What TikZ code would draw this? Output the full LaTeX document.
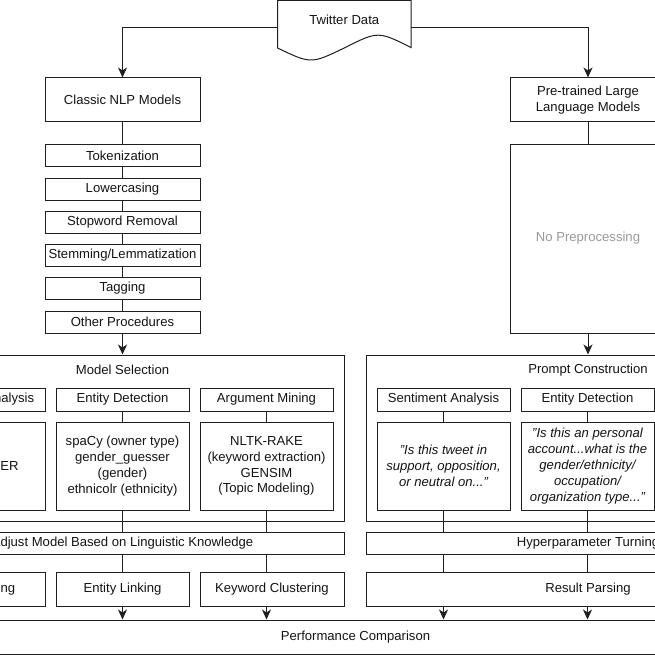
\documentclass[tikz,border=0pt]{standalone}
\usepackage{fontspec}
\setmainfont{Liberation Sans}
\usetikzlibrary{arrows.meta}
\begin{document}
\begin{tikzpicture}[x=1pt,y=-1pt,
  every node/.style={font=\fontsize{13.1}{15.8}\selectfont, text=black!92},
  box/.style={draw=black!88, line width=1pt, rectangle, inner sep=0pt, align=center},
  ln/.style={draw=black!88, line width=1pt},
  arr/.style={ln, -{Stealth[length=10pt,width=9pt,inset=3pt]}},
  hdr/.style={box, minimum width=133pt, minimum height=23pt},
  cnt/.style={box, minimum width=133pt, minimum height=88pt},
  step6/.style={box, minimum width=155pt, minimum height=22pt}]
\useasboundingbox (0,0) rectangle (655,655);
\clip (0,0) rectangle (655,655);
\fill[white] (0,0) rectangle (655,655);

% Twitter Data
\draw[ln, fill=white] (277.5,0.4) -- (411,0.4) -- (411,47.5)
  .. controls (378,31) .. (344.25,48)
  .. controls (311,64) .. (277.5,48) -- cycle;
\node[minimum width=133.5pt, minimum height=56pt, inner sep=0pt] (tw) at (344.25,28) {};
\node (twtext) at (344.25,20) {Twitter Data};

% top boxes
\node[box, minimum width=155pt, minimum height=44pt] (cnlp) at (122.5,100) {Classic NLP Models};
\node[box, minimum width=156pt, minimum height=44pt] (pllm) at (588,100) {Pre-trained Large\\Language Models};

\draw[arr] (tw.west) -| (cnlp.north);
\draw[arr] (tw.east) -| (pllm.north);

% preprocessing
\node[step6] (tok) at (122.5,156) {Tokenization};
\node[step6] (low) at (122.5,189) {Lowercasing};
\node[step6] (stop) at (122.5,222) {Stopword Removal};
\node[step6] (stem) at (122.5,255) {Stemming/Lemmatization};
\node[step6] (tag) at (122.5,288) {Tagging};
\node[step6] (oth) at (122.5,322) {Other Procedures};
\draw[ln] (cnlp) -- (tok);
\draw[ln] (tok) -- (low);
\draw[ln] (low) -- (stop);
\draw[ln] (stop) -- (stem);
\draw[ln] (stem) -- (tag);
\draw[ln] (tag) -- (oth);

\node[box, minimum width=156pt, minimum height=188pt] (nopre) at (588,239) {};
\node[text=black!40] (noprelbl) at (588,238) {No Preprocessing};
\draw[ln] (pllm) -- (nopre);

% outer boxes
\node[box, minimum width=443pt, minimum height=166pt] (ms) at (122.5,438) {};
\node (mstitle) at (122.5,370) {Model Selection};
\node[box, minimum width=444pt, minimum height=166pt] (pc) at (588,438) {};
\node (pctitle) at (588,370) {Prompt Construction};

\draw[arr] (oth.south) -- (ms.north);
\draw[arr] (nopre.south) -- (pc.north);

% left columns
\node[hdr] (lsah) at (-21.5,399.5) {Sentiment Analysis};
\node[hdr] (ledh) at (122.5,399.5) {Entity Detection};
\node[hdr] (lamh) at (266.5,399.5) {Argument Mining};
\node[cnt] (lsac) at (-21.5,466) {};
\node[anchor=east, inner sep=0pt] (lsatext) at (18.8,466) {NLTK-VADER};
\node[cnt] (ledc) at (122.5,466) {spaCy (owner type)\\gender\_guesser\\(gender)\\ethnicolr (ethnicity)};
\node[cnt] (lamc) at (266.5,466) {NLTK-RAKE\\(keyword extraction)\\GENSIM\\(Topic Modeling)};
\draw[ln] (lsah) -- (lsac);
\draw[ln] (ledh) -- (ledc);
\draw[ln] (lamh) -- (lamc);

% right columns
\node[hdr] (rsah) at (443.5,399.5) {Sentiment Analysis};
\node[hdr] (redh) at (587.5,399.5) {Entity Detection};
\node[cnt, font=\fontsize{13.1}{16}\selectfont\itshape] (rsac) at (443.5,466) {"Is this tweet in\\support, opposition,\\or neutral on..."};
\node[cnt, font=\fontsize{13.1}{16}\selectfont\itshape] (redc) at (587.5,466) {"Is this an personal\\account...what is the\\gender/ethnicity/\\occupation/\\organization type..."};
\draw[ln] (rsah) -- (rsac);
\draw[ln] (redh) -- (redc);

% adjust / hyper
\node[box, minimum width=443pt, minimum height=22pt] (adj) at (122.5,543) {Adjust Model Based on Linguistic Knowledge};
\node[box, minimum width=444pt, minimum height=22pt] (hyp) at (588,543) {Hyperparameter Turning};

\draw[ln] (lsac.south) -- (lsac.south |- adj.north);
\draw[ln] (ledc.south) -- (ledc.south |- adj.north);
\draw[ln] (lamc.south) -- (lamc.south |- adj.north);
\draw[ln] (rsac.south) -- (rsac.south |- hyp.north);
\draw[ln] (redc.south) -- (redc.south |- hyp.north);

% bottom row
\node[box, minimum width=133pt, minimum height=34pt] (lsb) at (-21.5,589) {};
\node[anchor=east, inner sep=0pt] (lsbtext) at (15.5,589.5) {Sentiment Scoring};
\node[box, minimum width=133pt, minimum height=34pt] (el) at (122.5,589) {Entity Linking};
\node[box, minimum width=144pt, minimum height=34pt] (kc) at (272,589) {Keyword Clustering};
\node[box, minimum width=444pt, minimum height=34pt] (rp) at (588,589) {Result Parsing};

\draw[ln] (lsac.south |- adj.south) -- (lsac.south |- lsb.north);
\draw[ln] (ledc.south |- adj.south) -- (el.north);
\draw[ln] (lamc.south |- adj.south) -- (lamc.south |- kc.north);
\draw[ln] (rsac.south |- hyp.south) -- (rsac.south |- rp.north);
\draw[ln] (redc.south |- hyp.south) -- (redc.south |- rp.north);

% performance
\node[box, minimum width=909pt, minimum height=34pt] (perf) at (355.5,637) {Performance Comparison};
\draw[arr] (lsac.south |- lsb.south) -- (lsac.south |- perf.north);
\draw[arr] (el.south) -- (el.south |- perf.north);
\draw[arr] (lamc.south |- kc.south) -- (lamc.south |- perf.north);
\draw[arr] (rsac.south |- rp.south) -- (rsac.south |- perf.north);
\draw[arr] (redc.south |- rp.south) -- (redc.south |- perf.north);
\end{tikzpicture}
\end{document}
